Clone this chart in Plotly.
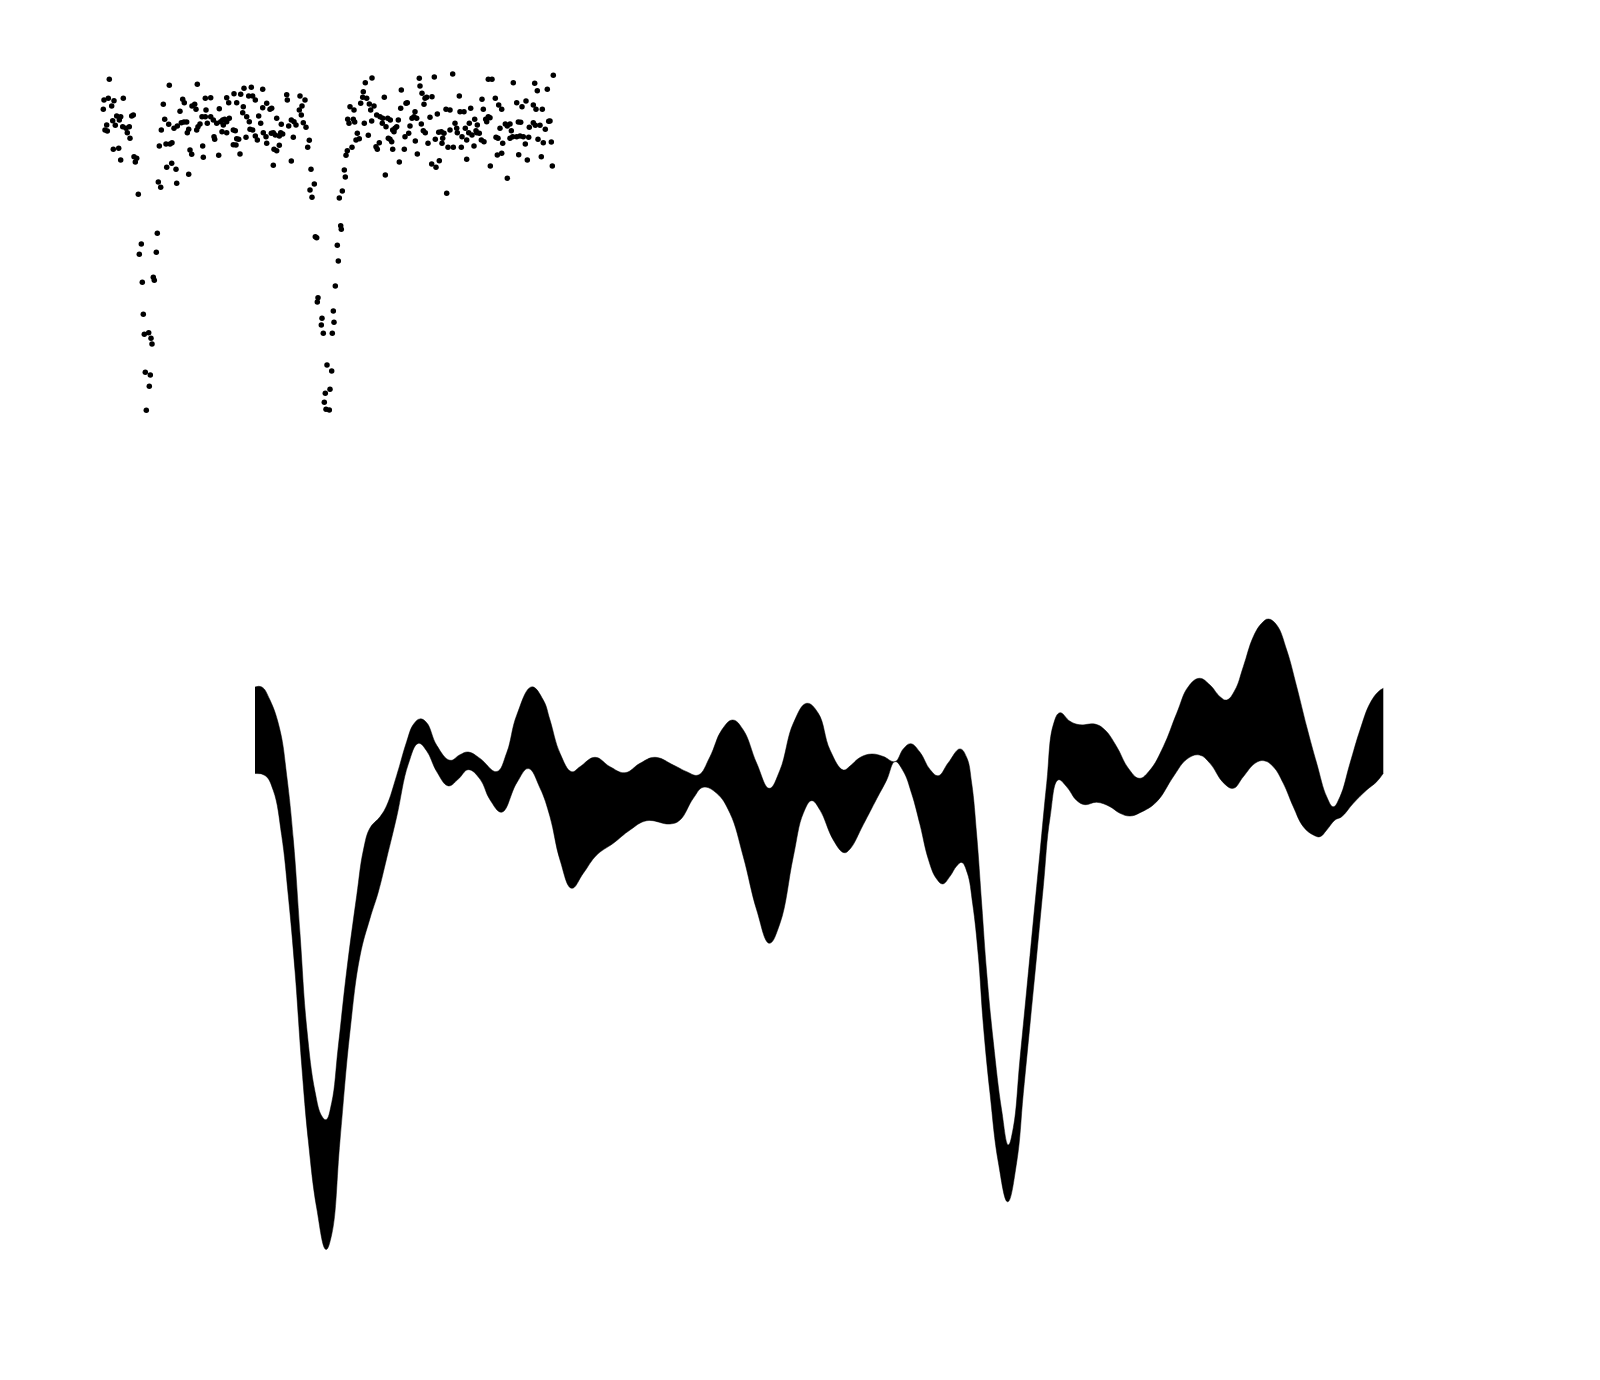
import plotly.graph_objects as go

# ---------------- Scatter (light curve): time [min], delta-mag [mmag] ----------------
scatter_t = [
    9.3, 4, 8.3, 14, 23.3, 3.3, 11.7, 16.7, 20.7, 12.7, 19.3, 31.7, 33.3, 6.7, 15.3, 22.7, 26, 29.3, 5, 7.3,
    27.3, 30, 13.3, 18.7, 20.7, 34, 36.7, 35.3, 38.3,
    57.3, 41.3, 39.3, 56.3, 53.3, 54.3, 42.3, 43.3, 44.3, 48.7, 51, 52, 45.3, 50.3, 49.3, 46.3,
    69.3, 97.3, 63.3, 82.7, 84.3, 105.3, 110.7, 92, 94.7, 96, 80, 64.7, 68.7, 74, 77.3, 81.3, 84, 86.7, 61.3, 88.7,
    87.3, 96.7, 98, 100, 102, 105.3, 107.3, 106, 110.7, 113.3, 119.3, 116.7, 120.7, 122.7, 124.7, 126.7, 129.3, 123.3, 122, 126.7,
    128.7, 134, 136.7, 140.7, 144, 148.7, 151.3, 152.7, 155.3, 162.7, 143.3, 142.7, 146.7, 149.3, 152.7, 158.7, 160.7, 150, 155.3, 157.3,
    136.7, 138.7, 133.3, 135.3, 146, 133.3, 136, 140, 114, 114.7, 118.7, 126.7, 103.3, 102.7, 90, 91.7, 72, 70, 66, 59.3,
    71.7, 66.7, 76, 88.7, 76.7, 58.3, 60.7, 162.7, 166.7, 170, 171.7, 163.3, 166, 166.7, 171.3, 173.3, 175.3, 176.7, 181.3, 186.7,
    187.3, 191.3, 194, 196, 199.3, 200, 205, 202, 201.3, 203.3, 206, 188.7, 182.7, 179.3, 180.7, 193.3, 174, 176.7, 179.3, 173.3,
    191.3, 209.3, 207.7, 211, 214.3, 210, 212, 215.3, 216.7,
    218, 217.3, 222, 221.3, 223.3, 227, 225.3, 224.3,
    231.7, 230, 226, 229.3, 233.3, 234, 232.3, 235.3, 238.3, 237.3, 240.7, 241.3, 239.3, 242.3, 245.3, 244.3, 246, 247.3, 252, 256,
    259.3, 257.3, 247.7, 253.3, 249, 254.7, 250, 254, 260.7, 262.7, 266.7, 263.3, 265.3, 272, 269.3, 270.7, 274, 264.3, 268.3, 271.7,
    276.7, 280, 282.7, 287.7, 282.3, 284.3, 286, 288.3, 290, 291.7, 292.7, 276, 277.3, 279.3, 285.3, 290.3, 292.7, 295, 296.7, 298.3,
    294, 299.3, 301.3, 300.7, 305, 304.3, 306, 307.3, 308.7, 310, 312, 314, 315, 316.7, 317.3, 315.3, 319.3, 320, 322, 324,
    325, 326.7, 321.3, 323.3, 325.3, 328, 330, 332, 334.3, 331.7, 336, 339.3, 337.3, 335.3, 338.7, 341.3, 344, 342.7, 342, 346,
    350, 352.7, 350, 348, 346.7, 353.3, 355, 356.7, 357.3, 359.3, 360, 364, 362, 361.3, 365.3, 366.7, 366.7, 369.3, 368.7, 370.7,
    374, 372, 374.7, 376, 377.3, 376.7, 379.3, 381.3, 382, 383.3, 384, 385.7, 386.7, 388.3, 390, 388.3, 392, 395.3, 390.3, 396,
    398, 398.7, 401.7, 400, 402.7, 397.3, 401.7, 407.3, 405.3, 407.3, 410, 411.3, 413.3, 410, 412.7, 416.7, 418.3, 420.7, 416.7, 420,
    422, 426, 423.3, 418.7, 425.3, 427.3, 428.7, 429.3, 433.3, 434.7, 437.3, 433.3, 436, 438, 435.3, 440, 442.3, 441.3, 443.3, 445.3,
    448.7, 447.3, 450, 451.3, 452.3, 453.3,
]
scatter_dm = [
    -20.7, 0, -1.7, 0.7, -1.7, 9.3, 6, 16, 16.7, 20.7, 20, 16, 15, 25, 25.3, 26.7, 28.3, 26.7, 30, 31,
    32.7, 38.3, 49.3, 48.3, 60, 56.7, 58.3, 62, 94.3,
    133.3, 144, 154.3, 152.3, 177.3, 180.3, 182.3, 214.3, 234.3, 232.7, 238.3, 244, 272.3, 275, 286.3, 310.3,
    -14.7, -15.7, 4.3, -0.7, 2.7, -1.7, -2.3, 6, 4.3, 9.3, 11.3, 19.3, 24.3, 28.3, 26, 22.7, 22, 22, 30, 29.3,
    32.7, 30, 26.7, 24, 16.7, 16.7, 23.3, 10, 16.7, 20, 8.7, 23.3, 21.7, 20, 19.3, 21.7, 18.3, 25, 31.7, -2.3,
    2.7, -6.3, 2.7, -5.7, -11.7, -4, -12.7, -4, 0, -10.7, 6.7, 12.7, 16.7, 21.7, 30, 16, 23.3, 29.3, 36, 40,
    38.7, 39.3, 30, 30.7, 37.3, 44.7, 45, 54, 36.7, 39.3, 55.3, 32.7, 57.3, 46, 50, 54.3, 42.7, 44, 44, 46,
    63.3, 67.3, 69.3, 74.3, 83.3, 82, 87.3, 7.7, 3.3, 9.3, 8.3, 32.7, 36.7, 43.3, 33.3, 32.7, 35, 18.3, 24.3, -5.3,
    0, 20, 21.7, 25, 10, -4, 0, 6, 15, 22.7, 27.3, 26, 34, 36, 32.7, 37.3, 49.3, 50.7, 45.3, 65.3,
    61, 40.3, 47.3, 69.3, 84, 90, 97.3, 136.7, 137.7,
    197.7, 202, 218.3, 225, 233.3, 265, 293.3, 302.3,
    271, 289.3, 309.3, 310, 211, 222.3, 233.3, 186, 161, 145.3, 125.7, 129.3, 98, 91, 77, 70, 55.3, 50.7, 47.3, 40,
    38.7, 33.3, 19.3, 19.3, 23.3, 22, 6.7, 10, 3.3, -2.7, -1.7, -8.3, -17.3, -22, 4, 10, 6, 23.3, 35.3, 21,
    15, 16.7, 18.3, 18.3, 23.3, -2.7, 26.7, 38.3, 39.3, 41.7, 49.3, 46.7, 49.3, 42.7, 75, 20, 30, 28.3, 26.7, 20,
    31.7, 62, -10, 8.3, 36.7, 49.3, 3.3, 2.7, 33.3, 26, 18.3, 16.7, 11.7, 18.3, 54, 41, -21.7, -14, -6.7, 4.3,
    -1.7, -2.7, 24, 30.7, 32.7, 43.3, 17.3, -3.3, -23, 64, 67.3, 60.7, 14, 39.3, 32.3, 31.7, 33.3, 38.3, 43.3, 9.3,
    10, -26, 30, 47.3, 93.3, 47.3, 23.3, 28.3, 32.7, -4, 11.7, 11.7, 36.7, 47.3, 28.3, 40, 59.3, 23.3, 32.7, 8.3,
    46, 35, 19.3, 30.7, 25, 32.7, 33.3, 40, -0.7, 9.3, 41.7, 19.3, 21.7, 16.7, 17.7, -20.7, -20.7, -1.7, 66, 37.3,
    38.3, 5, 9.3, 28.3, 43.3, 55, 53.3, 78.3, 24, 26, 24, 30.7, -17.3, 38.3, 36.7, 2.7, 22, 22.3, 36.7, 36,
    6.7, 1, 36.7, 54.7, 44, 60, 37.3, 27.3, 22.7, -16.7, -9.3, 5, 9.3, 39.3, 25.3, 25.3, 9.3, 56.7, 42.7, 29.3,
    21.3, -10.7, 21, 42, 66, -24.7,
]

# ---------------- Band (model envelope): time, delta-mag upper / lower ----------------
band_t_upper = [
    0.00, 0.67, 1.50, 2.50, 3.17, 3.83, 4.50, 5.17, 6.00, 6.67, 7.10, 7.67, 8.33, 9.17, 10.17, 10.83, 11.50, 12.50, 13.17, 14.17,
    15.17, 15.83, 16.50, 17.17, 18.17, 19.50, 20.50, 21.33, 22.50, 24.17, 25.17, 26.17, 27.67, 28.83, 29.50, 30.50, 31.67, 32.50, 34.00, 35.50,
    37.00, 38.50, 40.00, 41.83, 43.17, 44.33, 45.50, 46.67, 47.77, 48.83, 50.17, 51.43, 52.50, 53.83, 55.17, 56.33, 57.50, 58.83, 59.50, 60.50,
    61.67, 62.83, 64.00, 64.83, 65.57, 66.50, 67.50, 68.33, 69.33, 70.50, 71.17, 71.67, 72.17, 72.67, 73.17, 73.83, 74.67, 75.33, 75.83, 76.50,
    77.17, 77.83, 78.50, 79.17, 79.83, 80.50, 81.50, 82.50, 84.00, 85.00, 86.17, 87.33, 88.43, 89.50, 90.83, 92.17, 93.33, 94.43, 95.50, 96.50,
    97.17, 98.00, 98.83, 99.83, 100.67, 101.33, 102.17, 103.17, 104.17, 105.17, 106.17, 107.17, 107.83, 108.50, 109.50, 110.50, 111.50, 112.33, 112.83,
]
band_upper = [
    -0.430, -0.431, -0.299, 0.002, 0.454, 1.093, 2.034, 2.975, 3.615, 3.859, 3.897, 3.727, 3.163, 2.410, 1.658, 1.206, 0.980, 0.868, 0.755, 0.454,
    0.115, -0.054, -0.111, -0.073, 0.153, 0.303, 0.247, 0.220, 0.284, 0.416, 0.228, -0.148, -0.431, -0.299, -0.100, 0.233, 0.417, 0.367, 0.273, 0.367,
    0.427, 0.333, 0.273, 0.350, 0.417, 0.450, 0.267, 0.000, -0.100, 0.000, 0.333, 0.583, 0.400, -0.067, -0.267, -0.167, 0.200, 0.400, 0.361, 0.275,
    0.240, 0.265, 0.316, 0.189, 0.137, 0.223, 0.395, 0.457, 0.327, 0.189, 0.275, 0.533, 1.050, 1.739, 2.427, 3.116, 3.805, 4.149, 3.977, 3.288,
    2.600, 1.911, 1.222, 0.533, -0.052, -0.173, -0.087, -0.052, -0.059, 0.000, 0.167, 0.383, 0.483, 0.400, 0.167, -0.167, -0.433, -0.517, -0.450, -0.333,
    -0.300, -0.400, -0.633, -0.933, -1.067, -1.110, -1.050, -0.800, -0.433, -0.033, 0.333, 0.667, 0.767, 0.667, 0.333, 0.000, -0.267, -0.383, -0.417,
]
band_t_lower = [
    0.00, 1.00, 1.83, 2.67, 3.33, 4.00, 4.67, 5.33, 6.17, 7.10, 7.67, 8.50, 9.50, 10.50, 11.50, 12.33, 13.17, 14.17, 15.33, 16.33,
    17.17, 18.17, 19.33, 20.33, 21.33, 22.50, 23.50, 24.67, 26.17, 27.33, 28.50, 29.50, 30.50, 31.67, 32.83, 34.17, 35.83, 37.50, 39.17, 41.50,
    42.50, 43.83, 44.83, 46.17, 47.50, 48.83, 50.17, 51.43, 52.50, 53.83, 54.83, 55.67, 56.50, 57.83, 58.90, 59.50, 60.83, 62.17, 63.17, 64.00,
    64.83, 65.67, 66.50, 67.33, 68.10, 68.77, 69.50, 70.17, 70.67, 71.23, 71.77, 72.33, 72.83, 73.50, 74.33, 75.27, 76.17, 76.83, 77.50, 78.17,
    78.83, 79.50, 80.33, 81.17, 82.17, 83.00, 84.17, 85.50, 86.50, 87.50, 88.50, 90.17, 91.83, 93.17, 94.43, 95.50, 96.83, 97.83, 98.83, 100.00,
    100.90, 101.83, 102.83, 103.83, 104.83, 105.83, 106.50, 107.17, 108.00, 108.67, 109.83, 111.17, 112.17, 112.83,
]
band_lower = [
    0.435, 0.454, 0.604, 1.056, 1.658, 2.410, 3.351, 4.104, 4.781, 5.195, 5.045, 4.104, 3.012, 2.260, 1.884, 1.620, 1.282, 0.868, 0.341, 0.134,
    0.209, 0.416, 0.559, 0.491, 0.397, 0.491, 0.698, 0.822, 0.529, 0.386, 0.580, 0.867, 1.300, 1.583, 1.433, 1.250, 1.133, 1.000, 0.907, 0.940,
    0.900, 0.683, 0.573, 0.633, 0.833, 1.267, 1.800, 2.133, 1.933, 1.267, 0.833, 0.707, 0.800, 1.100, 1.227, 1.190, 0.946, 0.688, 0.499, 0.316,
    0.413, 0.637, 0.946, 1.291, 1.480, 1.539, 1.463, 1.360, 1.325, 1.429, 1.739, 2.255, 2.944, 3.633, 4.322, 4.718, 4.322, 3.633, 2.944, 2.255,
    1.566, 0.878, 0.499, 0.568, 0.705, 0.747, 0.723, 0.767, 0.833, 0.860, 0.827, 0.717, 0.467, 0.293, 0.250, 0.333, 0.527, 0.583, 0.467, 0.333,
    0.307, 0.367, 0.533, 0.767, 0.967, 1.050, 1.067, 1.000, 0.900, 0.867, 0.733, 0.600, 0.517, 0.433,
]

fig = go.Figure()

fig.add_trace(go.Scatter(
    x=band_t_upper, y=band_upper, mode="lines",
    line=dict(color="black", width=0.5, shape="spline", smoothing=1.2),
    xaxis="x", yaxis="y", hoverinfo="skip",
))
fig.add_trace(go.Scatter(
    x=band_t_lower, y=band_lower, mode="lines",
    line=dict(color="black", width=0.5, shape="spline", smoothing=1.2),
    fill="tonexty", fillcolor="black",
    xaxis="x", yaxis="y", hoverinfo="skip",
))

fig.add_trace(go.Scatter(
    x=scatter_t, y=scatter_dm, mode="markers",
    marker=dict(color="black", size=5.5, line=dict(width=0)),
    xaxis="x2", yaxis="y2",
))

hidden = dict(visible=False, showgrid=False, zeroline=False, showticklabels=False, fixedrange=True)

fig.update_layout(
    width=1600, height=1380,
    margin=dict(l=0, r=0, t=0, b=0, pad=0),
    paper_bgcolor="white", plot_bgcolor="rgba(0,0,0,0)",
    showlegend=False,
    xaxis=dict(domain=[0, 1], range=[-25.5, 134.5], **hidden),
    yaxis=dict(domain=[0, 1], range=[6.5, -7.3], **hidden),
    xaxis2=dict(range=[-100, 1500], anchor="y2", overlaying="x", **hidden),
    yaxis2=dict(range=[1280, -100], anchor="x2", overlaying="y", **hidden),
)

fig.write_html("out.html")
